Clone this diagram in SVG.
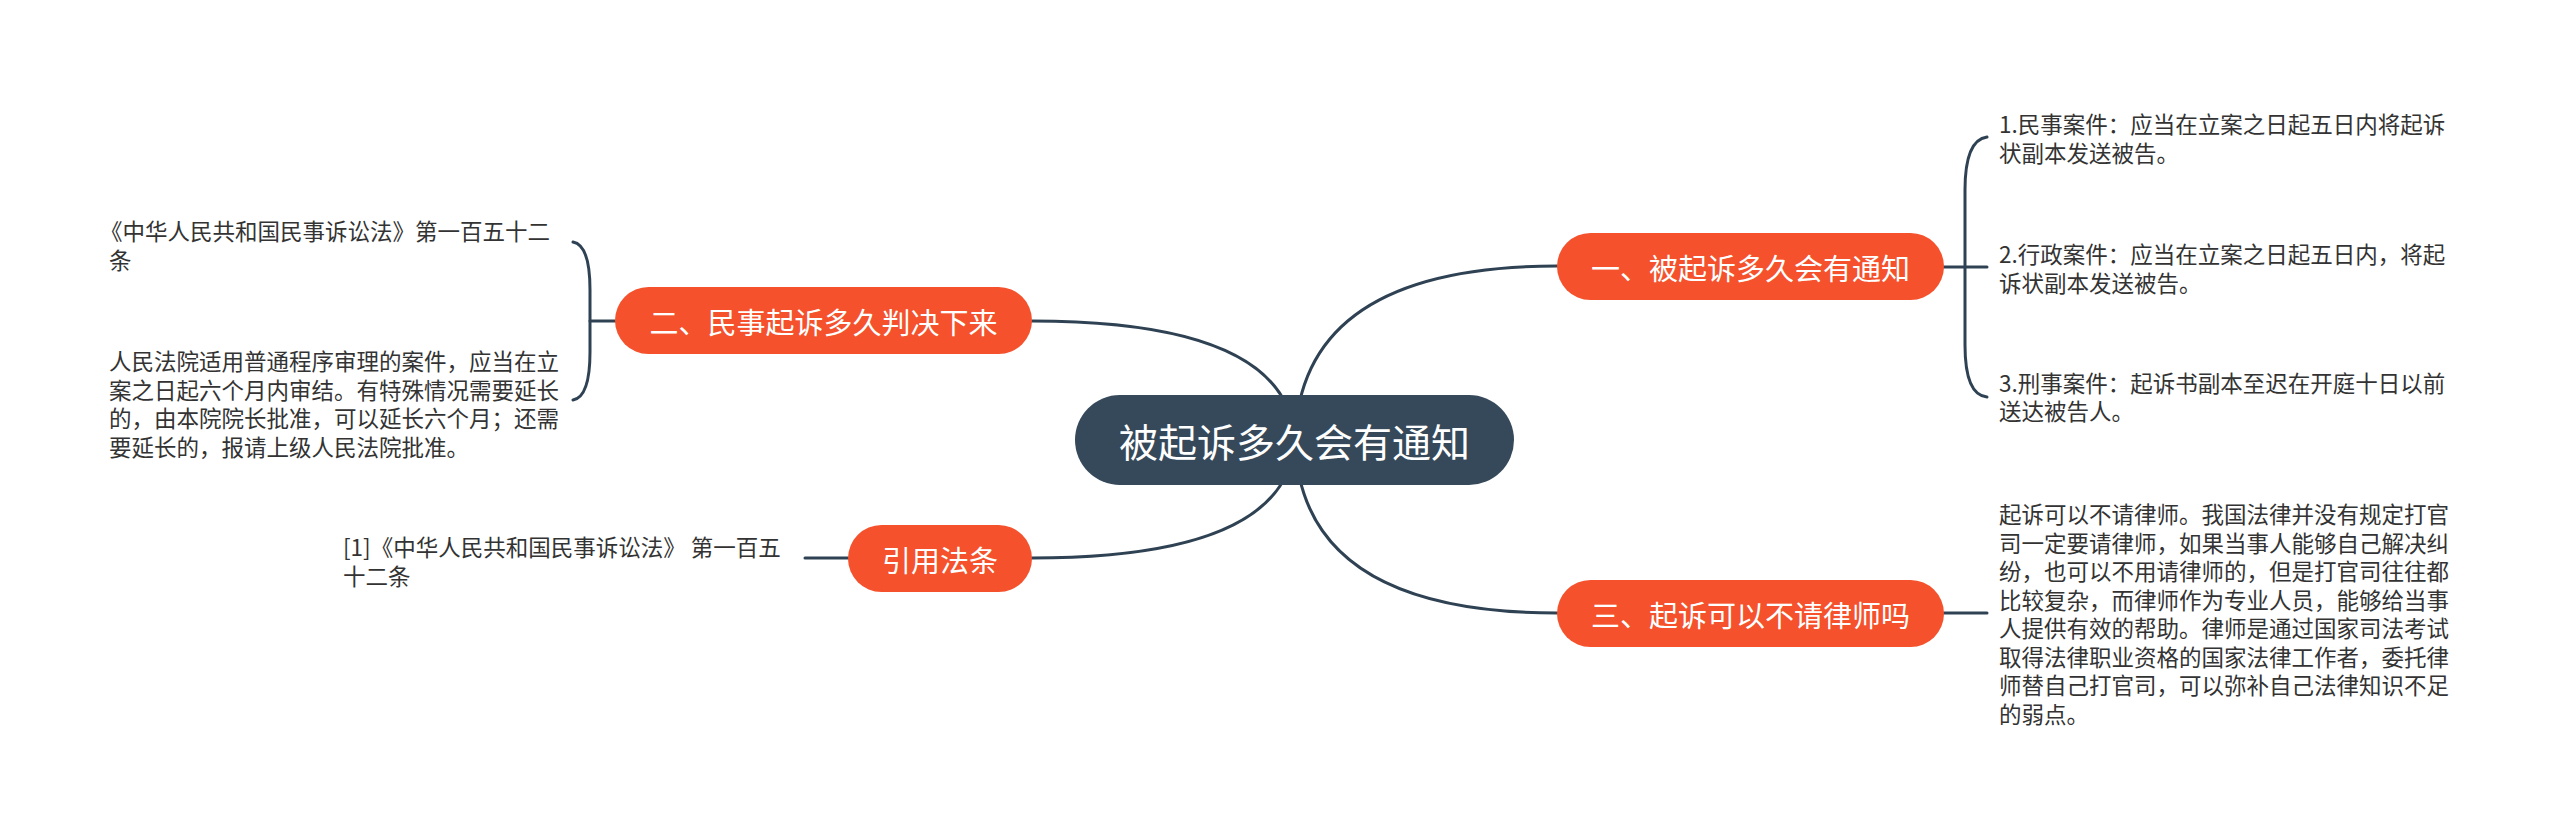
<svg xmlns="http://www.w3.org/2000/svg" width="2560" height="838" viewBox="0 0 2560 838">
<style>
.bg{fill:#ffffff}
.line{fill:none;stroke:#2f4254;stroke-width:3;stroke-linecap:round}
.root{fill:#36495a}
.main{fill:#f4512c}
.t{font-family:"Noto Sans CJK SC","Liberation Sans",sans-serif;dominant-baseline:central}
.rt{font-size:39px;fill:#ffffff;text-anchor:middle}
.mt{font-size:29px;fill:#ffffff;text-anchor:middle}
.lt{font-size:22.5px;fill:#333333}
</style>
<rect class="bg" x="0" y="0" width="2560" height="838"/>
<g id="connectors">
<path class="line" d="M1295,440 Q1300,266 1557,266"/>
<path class="line" d="M1295,440 Q1300,613 1557,613"/>
<path class="line" d="M1295,440 Q1288,321 1032,321"/>
<path class="line" d="M1295,440 Q1288,558 1032,558"/>
<path class="line" d="M1944,267 L1987,267"/>
<path class="line" d="M1987,137 Q1965,140 1965,190 L1965,345 Q1965,395 1987,397"/>
<path class="line" d="M1944,613 L1987,613"/>
<path class="line" d="M615,321 L590,321"/>
<path class="line" d="M573,242 Q590,245 590,290 L590,352 Q590,397 573,400"/>
<path class="line" d="M848,558 L805,558"/>
</g>
<g id="root">
<rect class="root" x="1075" y="395" width="439" height="90" rx="45"/>
<text class="t rt" x="1294.5" y="440">被起诉多久会有通知</text>
</g>
<g id="n1">
<rect class="main" x="1557" y="233" width="387" height="67" rx="33.5"/>
<text class="t mt" x="1750.5" y="266.5">一、被起诉多久会有通知</text>
</g>
<g id="n1a">
<text class="t lt" x="1999" y="123">1.民事案件：应当在立案之日起五日内将起诉</text>
<text class="t lt" x="1999" y="152">状副本发送被告。</text>
</g>
<g id="n1b">
<text class="t lt" x="1999" y="253">2.行政案件：应当在立案之日起五日内，将起</text>
<text class="t lt" x="1999" y="282">诉状副本发送被告。</text>
</g>
<g id="n1c">
<text class="t lt" x="1999" y="382">3.刑事案件：起诉书副本至迟在开庭十日以前</text>
<text class="t lt" x="1999" y="410">送达被告人。</text>
</g>
<g id="n3">
<rect class="main" x="1557" y="580" width="387" height="67" rx="33.5"/>
<text class="t mt" x="1750.5" y="613.5">三、起诉可以不请律师吗</text>
</g>
<g id="n3a">
<text class="t lt" x="1999" y="513">起诉可以不请律师。我国法律并没有规定打官</text>
<text class="t lt" x="1999" y="541.5">司一定要请律师，如果当事人能够自己解决纠</text>
<text class="t lt" x="1999" y="570">纷，也可以不用请律师的，但是打官司往往都</text>
<text class="t lt" x="1999" y="598.5">比较复杂，而律师作为专业人员，能够给当事</text>
<text class="t lt" x="1999" y="627">人提供有效的帮助。律师是通过国家司法考试</text>
<text class="t lt" x="1999" y="655.5">取得法律职业资格的国家法律工作者，委托律</text>
<text class="t lt" x="1999" y="684">师替自己打官司，可以弥补自己法律知识不足</text>
<text class="t lt" x="1999" y="712.5">的弱点。</text>
</g>
<g id="n2">
<rect class="main" x="615" y="287" width="417" height="67" rx="33.5"/>
<text class="t mt" x="823.5" y="320.5">二、民事起诉多久判决下来</text>
</g>
<g id="n2a">
<text class="t lt" x="100" y="230">《中华人民共和国民事诉讼法》第一百五十二</text>
<text class="t lt" x="109" y="259">条</text>
</g>
<g id="n2b">
<text class="t lt" x="109" y="360">人民法院适用普通程序审理的案件，应当在立</text>
<text class="t lt" x="109" y="388.5">案之日起六个月内审结。有特殊情况需要延长</text>
<text class="t lt" x="109" y="417">的，由本院院长批准，可以延长六个月；还需</text>
<text class="t lt" x="109" y="445.5">要延长的，报请上级人民法院批准。</text>
</g>
<g id="n4">
<rect class="main" x="848" y="525" width="184" height="67" rx="33.5"/>
<text class="t mt" x="940" y="558.5">引用法条</text>
</g>
<g id="n4a">
<text class="t lt" x="343" y="546">[1]《中华人民共和国民事诉讼法》 第一百五</text>
<text class="t lt" x="343" y="575">十二条</text>
</g>
</svg>
